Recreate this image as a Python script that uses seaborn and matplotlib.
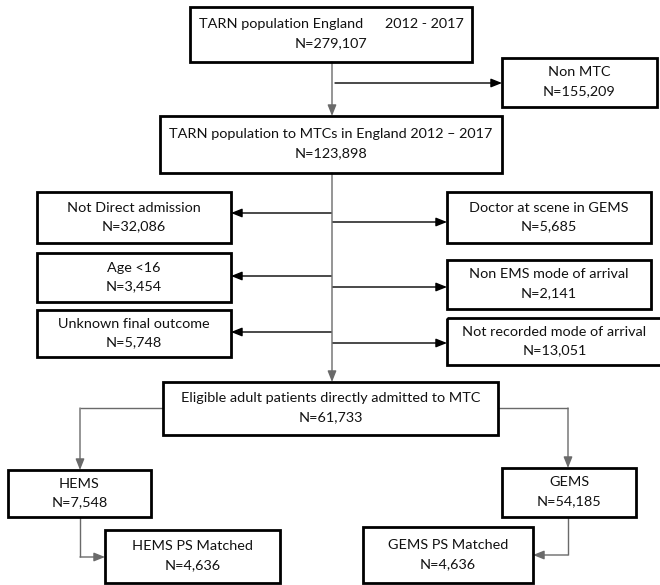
import matplotlib
matplotlib.use("Agg")
import matplotlib.pyplot as plt
from matplotlib.patches import Rectangle
import seaborn as sns

# ---- data ----
box_titles = [
    "TARN population England      2012 - 2017",
    "Non MTC",
    "TARN population to MTCs in England 2012 \u2013 2017",
    "Not Direct admission",
    "Age <16",
    "Unknown final outcome",
    "Doctor at scene in GEMS",
    "Non EMS mode of arrival",
    "Not recorded mode of arrival",
    "Eligible adult patients directly admitted to MTC",
    "HEMS",
    "GEMS",
    "HEMS PS Matched",
    "GEMS PS Matched",
]
box_counts = [279107, 155209, 123898, 32086, 3454, 5748, 5685, 2141,
              13051, 61733, 7548, 54185, 4636, 4636]

# ---- layout (pixels: x0, y0, x1, y1) ----
box_xy = [
    (190, 7, 472, 62),
    (502, 58, 657, 107),
    (160, 116, 502, 173),
    (37, 192, 231, 243),
    (37, 253, 231, 302),
    (37, 310, 231, 357),
    (447, 192, 651, 243),
    (447, 260, 651, 309),
    (447, 318, 662, 365),
    (163, 382, 498, 435),
    (8, 470, 151, 517),
    (502, 468, 636, 517),
    (105, 530, 280, 583),
    (363, 527, 533, 583),
]
box_lw = [2.0] * len(box_xy)

sns.set_theme(style="white")
plt.rcParams["font.family"] = ["Lato", "DejaVu Sans"]

fig = plt.figure(figsize=(6.6, 5.85), dpi=100)
ax = fig.add_axes([0, 0, 1, 1])
ax.set_xlim(0, 660)
ax.set_ylim(585, 0)
ax.axis("off")

for (x0, y0, x1, y1), t, n, lw in zip(box_xy, box_titles, box_counts, box_lw):
    ax.add_patch(Rectangle((x0, y0), x1 - x0, y1 - y0, fill=False,
                           edgecolor="black", linewidth=lw, zorder=3))
    cx = (x0 + x1) / 2
    cy = (y0 + y1) / 2
    ax.text(cx, cy - 10, t, ha="center", va="center", fontsize=10.4,
            color="#111111", zorder=4)
    ax.text(cx, cy + 9, f"N={n:,}", ha="center", va="center",
            fontsize=10.4, color="#111111", zorder=4)

gray = "#6a6a6a"
arrow_kw = dict(arrowstyle="-|>,head_length=0.55,head_width=0.22",
                shrinkA=0, shrinkB=0, mutation_scale=12)


def arrow(p0, p1, color="black", lw=1.0):
    ax.annotate("", xy=p1, xytext=p0,
                arrowprops=dict(color=color, lw=lw, **arrow_kw), zorder=2)


def line(xs, ys, color=gray, lw=1.0):
    ax.plot(xs, ys, color=color, lw=lw, zorder=2, solid_capstyle="butt")


mx = 332
# main spine
arrow((mx, 62), (mx, 116), color=gray)
arrow((mx + 3, 83), (502, 83))
arrow((mx, 173), (mx, 382), color=gray)

# exclusion arrows left
for y in (213, 276, 332):
    arrow((mx - 1, y), (231, y))
# exclusion arrows right
for y in (222, 287, 343):
    arrow((mx + 1, y), (447, y))

# branches
line([163, 80], [408, 408])
arrow((80, 408), (80, 470), color=gray)
line([498, 568], [408, 408])
arrow((568, 408), (568, 468), color=gray)

line([80, 80], [517, 557])
arrow((80, 557), (105, 557), color=gray)
line([568, 568], [517, 555])
arrow((568, 555), (533, 555), color=gray)

fig.savefig("out.png", dpi=100, facecolor="white")
